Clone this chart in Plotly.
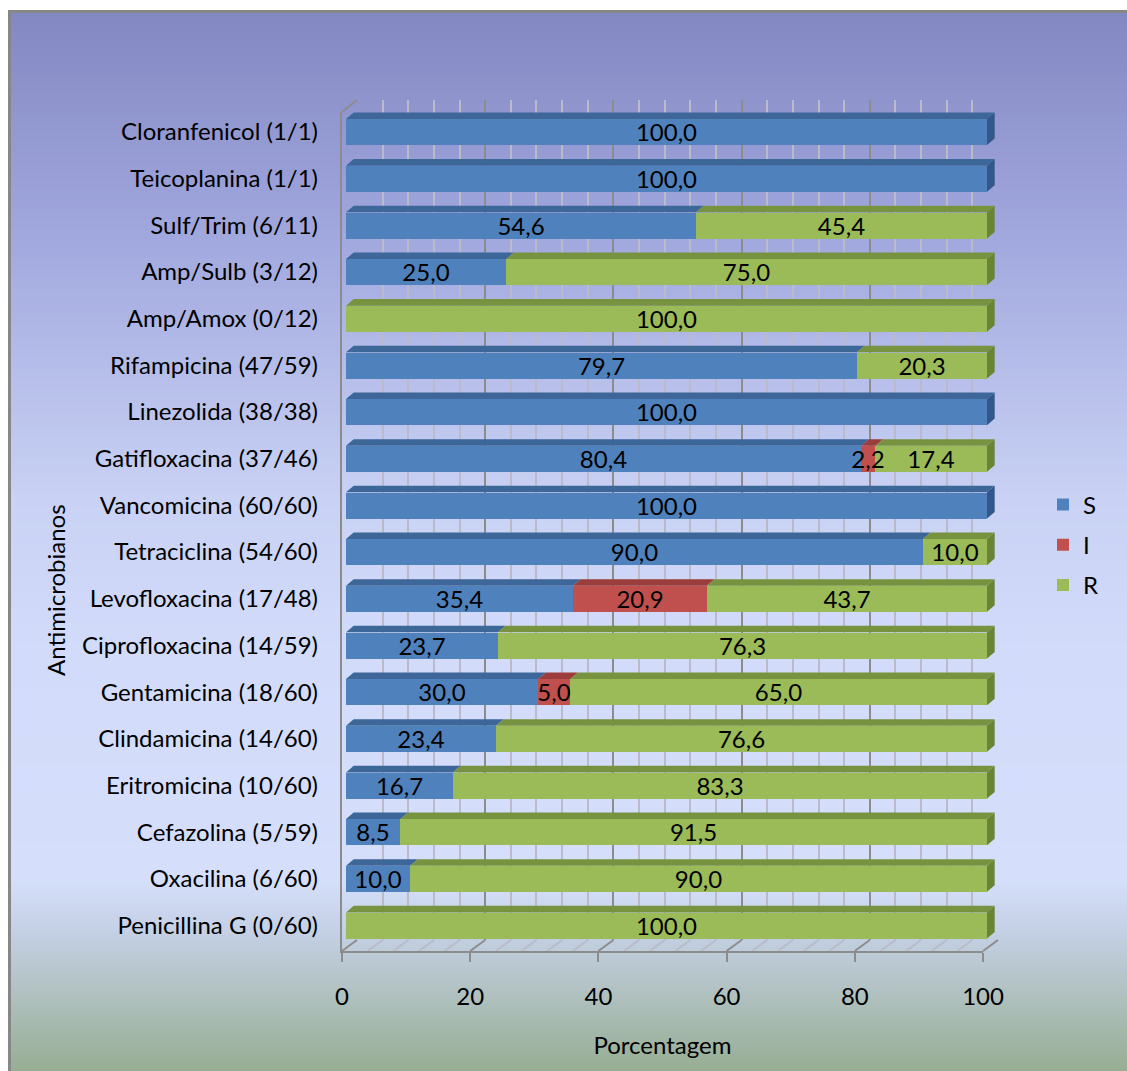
import numpy as np
import plotly.graph_objects as go

# ---------------------------------------------------------------- data
categories = [
    "Cloranfenicol (1/1)",
    "Teicoplanina (1/1)",
    "Sulf/Trim (6/11)",
    "Amp/Sulb (3/12)",
    "Amp/Amox (0/12)",
    "Rifampicina (47/59)",
    "Linezolida (38/38)",
    "Gatifloxacina (37/46)",
    "Vancomicina (60/60)",
    "Tetraciclina (54/60)",
    "Levofloxacina (17/48)",
    "Ciprofloxacina (14/59)",
    "Gentamicina (18/60)",
    "Clindamicina (14/60)",
    "Eritromicina (10/60)",
    "Cefazolina (5/59)",
    "Oxacilina (6/60)",
    "Penicillina G (0/60)",
]
susceptible = [100.0, 100.0, 54.6, 25.0, 0.0, 79.7, 100.0, 80.4, 100.0,
               90.0, 35.4, 23.7, 30.0, 23.4, 16.7, 8.5, 10.0, 0.0]
intermediate = [0.0, 0.0, 0.0, 0.0, 0.0, 0.0, 0.0, 2.2, 0.0,
                0.0, 20.9, 0.0, 5.0, 0.0, 0.0, 0.0, 0.0, 0.0]
resistant = [0.0, 0.0, 45.4, 75.0, 100.0, 20.3, 0.0, 17.4, 0.0,
             10.0, 43.7, 76.3, 65.0, 76.6, 83.3, 91.5, 90.0, 100.0]
series_names = ["S", "I", "R"]
x_ticks = [0, 20, 40, 60, 80, 100]
x_title = "Porcentagem"
y_title = "Antimicrobianos"

# ---------------------------------------------------------------- page geometry
W, H = 1127, 1071
FONT = "Lato"
FS = 24


def px(x):
    return x / W


def py(y):
    return 1 - y / H


PXU = 6.41            # pixels per percent
FRONT_X0 = 342        # front edge of floor (axis with ticks)
BAR_X0 = 346          # front face of the bars
BACK_X0 = 357         # back wall
FLOOR_FRONT_Y, FLOOR_BACK_Y = 951, 940
WALL_TOP_FRONT, WALL_TOP_BACK = 112, 100
BAR_TOP_Y, BAR_BOT_Y = 108.7, 948.8

BW = 0.56             # bar thickness (category units)
DX = 1.2              # depth offset along x (percent units)
DY = 0.14             # depth offset along y (category units)

n = len(categories)
ypos = [n - 1 - i for i in range(n)]

styles = {
    "S": dict(front="#4F81BD", top="#3D6699", side="#33578A"),
    "I": dict(front="#C0504D", top="#9B3D3A", side="#8A3331"),
    "R": dict(front="#9BBB59", top="#77933F", side="#6A8436"),
}
series_values = dict(zip(series_names, [susceptible, intermediate, resistant]))

# cumulative start of every segment (stacked S -> I -> R)
bases = {}
running = [0.0] * n
for name in series_names:
    bases[name] = list(running)
    running = [r + v for r, v in zip(running, series_values[name])]


def label(v):
    return f"{v:.1f}".replace(".", ",") if v > 0 else ""


fig = go.Figure()

# empty traces so the back-wall and front-frame subplots get rendered
fig.add_trace(go.Scatter(x=[], y=[], xaxis="x", yaxis="y",
                         showlegend=False, hoverinfo="skip"))
fig.add_trace(go.Scatter(x=[], y=[], xaxis="x3", yaxis="y3",
                         showlegend=False, hoverinfo="skip"))

# ---------------------------------------------------------------- front faces
# the narrow "I" segments are drawn last so their labels stay on top
draw_order = ["S", "R", "I"]
for name in draw_order:
    vals = series_values[name]
    fig.add_trace(go.Bar(
        x=vals, y=ypos, base=bases[name], orientation="h", name=name,
        width=BW, xaxis="x2", yaxis="y2",
        marker=dict(color=styles[name]["front"], line=dict(width=0)),
        text=[label(v) for v in vals], texttemplate="%{text}",
        textposition="inside", insidetextanchor="middle",
        constraintext="none", textangle=0,
        textfont=dict(family=FONT, size=FS, color="black"),
        legendgroup=name, legendrank=series_names.index(name) + 1,
        hoverinfo="skip",
    ))

# ---------------------------------------------------------------- top and side faces
tops = {k: ([], []) for k in series_names}
sides = {k: ([], []) for k in series_names}
for i in range(n):
    yc = ypos[i]
    yt, yb = yc + BW / 2, yc - BW / 2
    end, last = 0.0, None
    for name in series_names:
        v = series_values[name][i]
        if v <= 0:
            continue
        x0 = bases[name][i]
        x1 = x0 + v
        tx, ty = tops[name]
        tx += [x0, x0 + DX, x1 + DX, x1, x0, None]
        ty += [yt, yt + DY, yt + DY, yt, yt, None]
        end, last = x1, name
    if last is not None:
        sx, sy = sides[last]
        sx += [end, end + DX, end + DX, end, end, None]
        sy += [yt, yt + DY, yb + DY, yb, yt, None]

for kind, polys in (("top", tops), ("side", sides)):
    for name in series_names:
        xs, ys = polys[name]
        if not xs:
            continue
        fig.add_trace(go.Scatter(
            x=xs, y=ys, xaxis="x2", yaxis="y2", mode="lines",
            fill="toself", fillcolor=styles[name][kind],
            line=dict(width=0, color=styles[name][kind]),
            showlegend=False, hoverinfo="skip",
        ))

# ---------------------------------------------------------------- background gradient
stops_y = [11, 250, 500, 650, 880, 935, 1071]
stops_c = ["#8387C2", "#A3AADF", "#C9D2F4", "#D2DBFA", "#D5DFFB", "#C3CFE3", "#97AE93"]
stops_rgb = np.array([[int(c[k:k + 2], 16) for k in (1, 3, 5)] for c in stops_c], float)

shapes = []
step = 4
for y0 in range(11, H, step):
    ym = y0 + step / 2
    rgb = [np.interp(ym, stops_y, stops_rgb[:, k]) for k in range(3)]
    col = "rgb({:.0f},{:.0f},{:.0f})".format(*rgb)
    shapes.append(dict(type="rect", xref="paper", yref="paper", layer="below",
                       x0=px(9), x1=1, y0=py(min(y0 + step + 0.5, H)), y1=py(y0),
                       fillcolor=col, line=dict(width=0)))

# outer frame (left and top edges)
frame_col = "#878787"
shapes.append(dict(type="line", xref="paper", yref="paper", layer="below",
                   x0=px(9.5), x1=px(9.5), y0=0, y1=py(10), line=dict(color=frame_col, width=3)))
shapes.append(dict(type="line", xref="paper", yref="paper", layer="below",
                   x0=px(8), x1=1, y0=py(11.5), y1=py(11.5), line=dict(color=frame_col, width=3)))

# floor perspective lines and wall corner
grid_major, grid_minor = "#8C8C8C", "#B9BCC8"
for v in range(0, 101, 4):
    shapes.append(dict(type="line", xref="paper", yref="paper", layer="below",
                       x0=px(FRONT_X0 + v * PXU), y0=py(FLOOR_FRONT_Y),
                       x1=px(BACK_X0 + v * PXU), y1=py(FLOOR_BACK_Y),
                       line=dict(color=grid_major if v % 20 == 0 else grid_minor,
                                 width=2)))
shapes.append(dict(type="line", xref="paper", yref="paper", layer="below",
                   x0=px(FRONT_X0), y0=py(WALL_TOP_FRONT),
                   x1=px(BACK_X0), y1=py(WALL_TOP_BACK),
                   line=dict(color=grid_major, width=2)))

# ---------------------------------------------------------------- axes
hidden = dict(showgrid=False, zeroline=False, showline=False,
              showticklabels=False, ticks="", automargin=False)

layout_axes = dict(
    # back wall with gridlines
    xaxis=dict(domain=[px(BACK_X0), px(BACK_X0 + 100 * PXU)], range=[0, 100],
               anchor="y", showgrid=True, gridcolor=grid_major, gridwidth=1.5,
               tick0=0, dtick=20, zeroline=False, showline=False,
               showticklabels=False, ticks="", automargin=False,
               minor=dict(dtick=4, showgrid=True, gridcolor=grid_minor, gridwidth=2)),
    yaxis=dict(domain=[py(FLOOR_BACK_Y), py(WALL_TOP_BACK)], range=[0, 1],
               anchor="x", **hidden),
    # bars
    xaxis2=dict(domain=[px(BAR_X0), px(BAR_X0 + 102 * PXU)], range=[0, 102],
                anchor="y2", **hidden),
    yaxis2=dict(domain=[py(BAR_BOT_Y), py(BAR_TOP_Y)], range=[-0.5, n - 0.5],
                anchor="x2", showgrid=False, zeroline=False, showline=False,
                tickmode="array", tickvals=ypos, ticktext=categories, ticks="",
                ticklabelstandoff=27, automargin=False,
                tickfont=dict(family=FONT, size=FS, color="black")),
    # front edges, ticks and tick labels
    xaxis3=dict(domain=[px(FRONT_X0), px(FRONT_X0 + 100 * PXU)], range=[0, 100],
                anchor="y3", showgrid=False, zeroline=False,
                showline=True, linecolor=grid_major, linewidth=2,
                tickmode="array", tickvals=x_ticks, ticks="outside",
                ticklen=9, tickwidth=2, tickcolor=grid_major,
                ticklabelstandoff=14, automargin=False,
                tickfont=dict(family=FONT, size=FS, color="black"),
                title=dict(text=x_title, standoff=28,
                           font=dict(family=FONT, size=FS, color="black"))),
    yaxis3=dict(domain=[py(FLOOR_FRONT_Y), py(WALL_TOP_FRONT)], range=[0, 1],
                anchor="x3", showgrid=False, zeroline=False,
                showline=True, linecolor=grid_major, linewidth=2,
                showticklabels=False, ticks="", automargin=False),
)

fig.update_layout(
    template="none",
    width=W, height=H,
    margin=dict(l=0, r=0, t=0, b=0, autoexpand=False),
    paper_bgcolor="white",
    plot_bgcolor="rgba(0,0,0,0)",
    barmode="overlay",
    bargap=0,
    separators=", ",
    font=dict(family=FONT, size=FS, color="black"),
    shapes=shapes,
    annotations=[dict(text=y_title, textangle=-90, xref="paper", yref="paper",
                      x=px(55), y=py(590), xanchor="center", yanchor="middle",
                      showarrow=False,
                      font=dict(family=FONT, size=FS, color="black"))],
    legend=dict(x=px(1043), y=py(545), xanchor="left", yanchor="middle",
                xref="paper", yref="paper",
                bgcolor="rgba(0,0,0,0)", borderwidth=0,
                traceorder="grouped", tracegroupgap=6,
                font=dict(family=FONT, size=FS, color="black")),
    **layout_axes,
)

fig.write_html("out.html")
